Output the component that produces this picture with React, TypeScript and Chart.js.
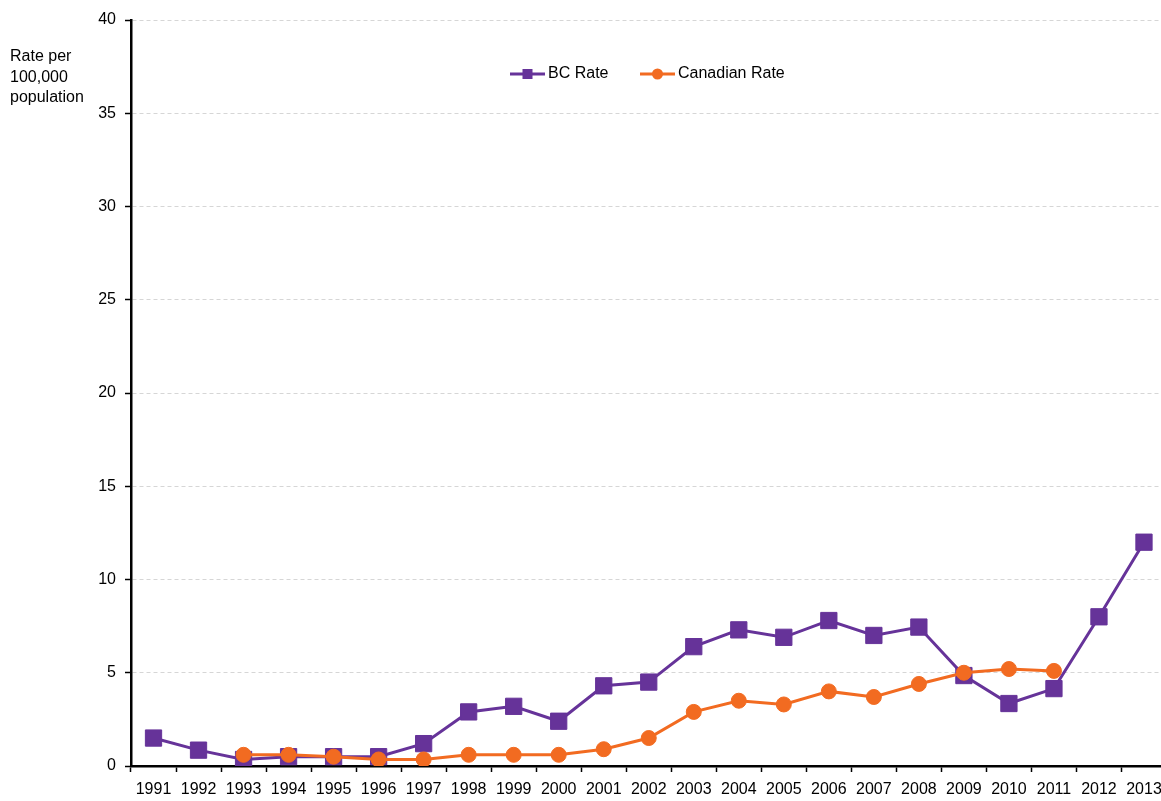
import React, { useEffect, useRef } from "react";
import { Chart, registerables } from "chart.js";

Chart.register(...registerables);

const years = ["1991","1992","1993","1994","1995","1996","1997","1998","1999","2000","2001","2002","2003","2004","2005","2006","2007","2008","2009","2010","2011","2012","2013"];
const bcRate = [1.5,0.85,0.35,0.5,0.5,0.5,1.2,2.9,3.2,2.4,4.3,4.5,6.4,7.3,6.9,7.8,7.0,7.45,4.85,3.35,4.15,8.0,12.0];
const canadianRate = [null,null,0.6,0.6,0.5,0.35,0.35,0.6,0.6,0.6,0.9,1.5,2.9,3.5,3.3,4.0,3.7,4.4,5.0,5.2,5.1,null,null];
const yTitleLines = ["Rate per","100,000","population"];
const seriesNames = ["BC Rate","Canadian Rate"];

const PURPLE = "#663399";
const ORANGE = "#F26B21";
const FONT = "'Liberation Sans', Arial, sans-serif";

const overlayPlugin = {
  id: "overlay",
  afterDraw(chart: any) {
    const ctx = chart.ctx;
    const area = chart.chartArea;
    ctx.save();
    ctx.fillStyle = "#000";
    ctx.font = `16px ${FONT}`;
    ctx.textAlign = "left";
    ctx.textBaseline = "middle";
    yTitleLines.forEach((t, i) => ctx.fillText(t, 10, 57 + i * 20.5));

    // legend
    const ly = area.top + 54;
    const items = [
      { x: area.left + 379, color: PURPLE, shape: "rect", label: seriesNames[0] },
      { x: area.left + 509, color: ORANGE, shape: "circle", label: seriesNames[1] },
    ];
    items.forEach((it) => {
      ctx.strokeStyle = it.color;
      ctx.lineWidth = 3;
      ctx.beginPath();
      ctx.moveTo(it.x, ly);
      ctx.lineTo(it.x + 35, ly);
      ctx.stroke();
      ctx.fillStyle = it.color;
      const cx = it.x + 17.5;
      if (it.shape === "rect") {
        ctx.fillRect(cx - 5, ly - 5, 10, 10);
      } else {
        ctx.beginPath();
        ctx.arc(cx, ly, 5.5, 0, Math.PI * 2);
        ctx.fill();
      }
      ctx.fillStyle = "#000";
      ctx.fillText(it.label, it.x + 38, ly);
    });
    ctx.restore();
  },
};

export default function App() {
  const ref = useRef<HTMLCanvasElement>(null);
  useEffect(() => {
    document.body.style.margin = "0";
    const chart = new Chart(ref.current!, {
      type: "line",
      data: {
        labels: years,
        datasets: [
          {
            label: seriesNames[0],
            data: bcRate,
            order: 1,
            borderColor: PURPLE,
            backgroundColor: PURPLE,
            borderWidth: 3,
            pointStyle: "rect",
            pointRadius: 11.5,
            pointBorderWidth: 1,
            pointBorderColor: PURPLE,
            pointBackgroundColor: PURPLE,
            tension: 0,
          },
          {
            label: seriesNames[1],
            data: canadianRate,
            order: 0,
            borderColor: ORANGE,
            backgroundColor: ORANGE,
            borderWidth: 3,
            pointStyle: "circle",
            pointRadius: 7.5,
            pointBorderWidth: 1,
            pointBorderColor: ORANGE,
            pointBackgroundColor: ORANGE,
            tension: 0,
          },
        ],
      },
      options: {
        animation: false,
        responsive: true,
        maintainAspectRatio: false,
        layout: { padding: { top: 20, left: 0, right: 0, bottom: 0 } },
        plugins: { legend: { display: false }, tooltip: { enabled: false } },
        scales: {
          x: {
            offset: true,
            grid: { display: true, drawOnChartArea: false, offset: true, tickLength: 6, tickColor: "#000", tickWidth: 1.5 },
            border: { color: "#000", width: 2.5 },
            ticks: { color: "#000", font: { family: FONT, size: 16 }, autoSkip: false, maxRotation: 0, padding: 8 },
            afterFit: (s: any) => { s.height = 35; },
          },
          y: {
            min: 0,
            max: 40,
            ticks: { stepSize: 5, color: "#000", font: { family: FONT, size: 16 }, padding: 9 },
            grid: { color: "#d6d6d6", tickLength: 6, tickColor: "#000", tickWidth: 1.5, tickBorderDash: [] } as any,
            border: { color: "#000", width: 2.5, dash: [4, 3] },
            afterFit: (s: any) => { s.width = 131; },
          },
        },
      },
      plugins: [overlayPlugin],
    });
    return () => chart.destroy();
  }, []);
  return (
    <div style={{ position: "relative", width: 1161, height: 801, overflow: "hidden" }}>
      <div style={{ position: "absolute", left: 0, top: 0, width: 1179, height: 801 }}>
        <canvas ref={ref} />
      </div>
    </div>
  );
}
